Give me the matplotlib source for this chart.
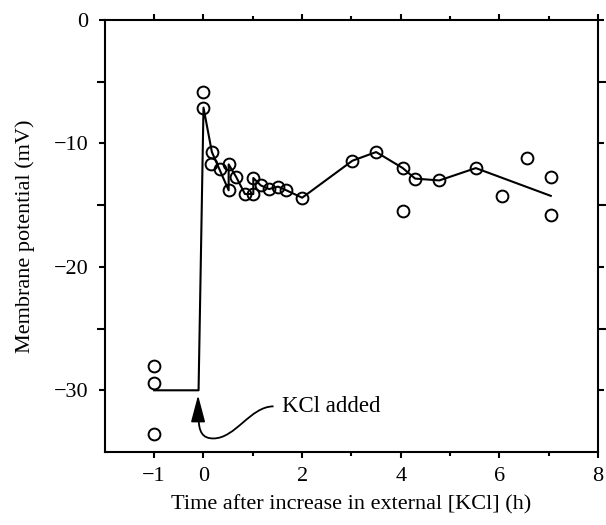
import matplotlib
matplotlib.use("Agg")
import matplotlib.pyplot as plt
from matplotlib.path import Path
from matplotlib.patches import PathPatch
from matplotlib.ticker import FixedLocator

# circles: individual measurements
pt_x = [-1, -1, -1, 0, 0, 0.17, 0.16, 0.34, 0.51, 0.51, 0.66, 0.84, 1.01, 1.01,
        1.16, 1.33, 1.51, 1.68, 2.0, 3.02, 3.5, 4.04, 4.04, 4.29, 4.78, 5.52,
        6.05, 6.55, 7.04, 7.04]
pt_y = [-28.0, -29.4, -33.5, -5.85, -7.1, -10.7, -11.7, -12.1, -11.7, -13.8,
        -12.7, -14.1, -14.1, -12.8, -13.4, -13.7, -13.5, -13.8, -14.4, -11.4,
        -10.7, -12.0, -15.5, -12.85, -13.0, -12.0, -14.25, -11.2, -12.7, -15.8]

# trace line
ln_x = [-1, -0.1, 0, 0.17, 0.51, 0.51, 0.66, 0.84, 1.01, 1.01, 1.16, 1.33,
        1.51, 1.68, 2.0, 3.02, 3.5, 4.04, 4.29, 4.78, 5.52, 7.04]
ln_y = [-30, -30, -7.1, -10.7, -13.8, -11.7, -12.7, -14.1, -14.1, -12.8, -13.4,
        -13.7, -13.5, -13.8, -14.4, -11.4, -10.7, -12.0, -12.85, -13.0, -12.0,
        -14.25]

x_major = [-1, 0, 2, 4, 6, 8]
x_minor = [1, 3, 5, 7]
y_major = [0, -10, -20, -30]
y_minor = [-5, -15, -25]

plt.rcParams["font.family"] = ["Liberation Serif", "DejaVu Serif"]

fig = plt.figure(figsize=(6.06, 5.25), dpi=100)
ax = fig.add_axes([0.173, 0.139, 0.814, 0.823])

ax.plot(ln_x, ln_y, color="black", linewidth=1.5, zorder=2)
ax.plot(pt_x, pt_y, linestyle="none", marker="o", markersize=8.5,
        markerfacecolor="none", markeredgecolor="black", markeredgewidth=1.4,
        zorder=3)

# "KCl added" arrow
ax.annotate("", xy=(-0.11, -30.4), xytext=(-0.11, -32.3),
            arrowprops=dict(arrowstyle="-|>,head_length=0.83,head_width=0.22",
                            color="black", lw=1.2, mutation_scale=20,
                            shrinkA=0, shrinkB=0))
verts = [(-0.1, -32.1), (-0.1, -33.4), (-0.02, -33.9), (0.2, -33.9),
         (0.65, -33.9), (0.95, -31.3), (1.42, -31.3)]
codes = [Path.MOVETO] + [Path.CURVE4] * 6
ax.add_patch(PathPatch(Path(verts, codes), facecolor="none",
                       edgecolor="black", lw=1.3))
ax.text(1.6, -31.3, "KCl added", fontsize=16.5, va="center", ha="left")

ax.set_xlim(-2, 8)
ax.set_ylim(-35, 0)
ax.xaxis.set_major_locator(FixedLocator(x_major))
ax.xaxis.set_minor_locator(FixedLocator(x_minor))
ax.yaxis.set_major_locator(FixedLocator(y_major))
ax.yaxis.set_minor_locator(FixedLocator(y_minor))
ax.set_xticklabels(["\u22121", "0", "2", "4", "6", "8"])
ax.set_yticklabels(["0", "\u221210", "\u221220", "\u221230"])

ax.tick_params(which="both", direction="out", top=True, right=True,
               width=1.5, labelsize=16)
ax.tick_params(axis="x", which="major", length=4.5, pad=6)
ax.tick_params(axis="x", which="minor", length=3)
ax.tick_params(axis="y", which="major", length=4, pad=8)
ax.tick_params(axis="y", which="minor", length=5.5)
for s in ax.spines.values():
    s.set_linewidth(1.5)

ax.set_xlabel("Time after increase in external [KCl] (h)", fontsize=16, labelpad=7)
ax.set_ylabel("Membrane potential (mV)", fontsize=16, labelpad=13)

fig.savefig("out.png", dpi=100)
